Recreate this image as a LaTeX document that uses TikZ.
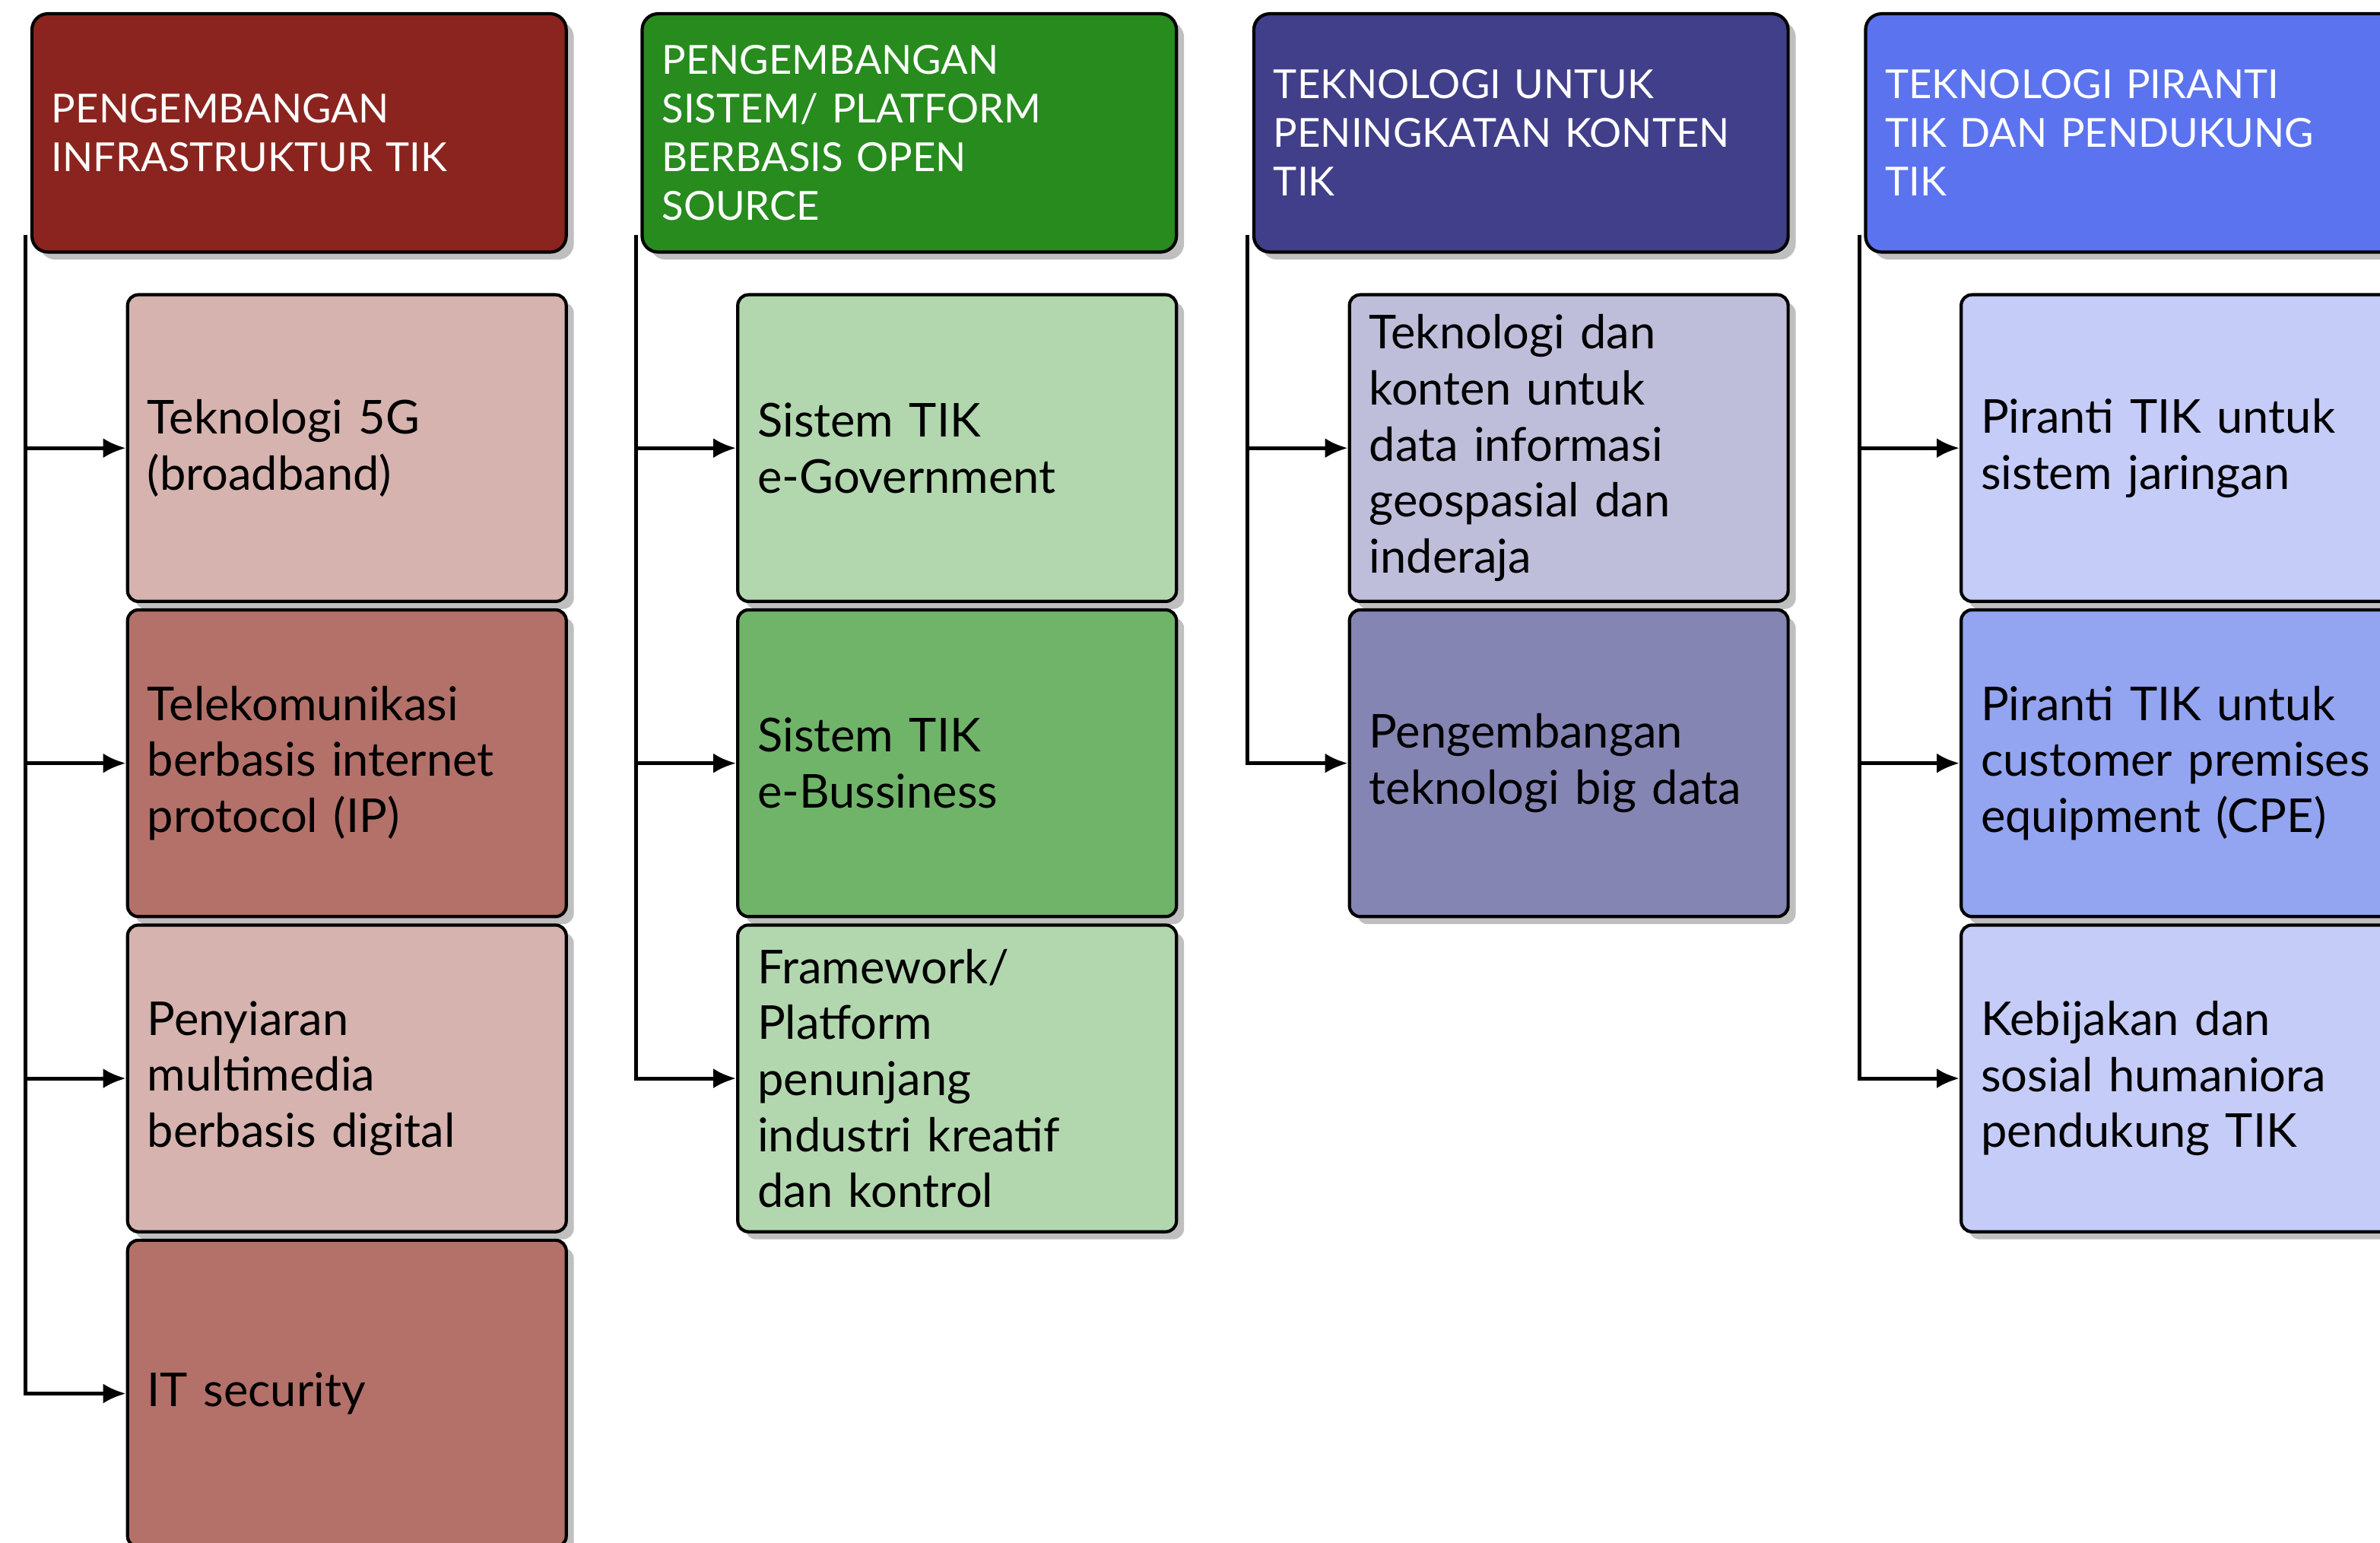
\documentclass[tikz,border=0pt]{standalone}
\usepackage{fontspec}
\setmainfont{Lato}
\usepackage{tikz}
\usetikzlibrary{positioning, shadows, arrows.meta}

\definecolor{infraHead}{RGB}{139,36,30}
\definecolor{infraLight}{RGB}{214,179,175}
\definecolor{infraDark}{RGB}{179,113,105}
\definecolor{osHead}{RGB}{39,139,30}
\definecolor{osLight}{RGB}{178,215,174}
\definecolor{osDark}{RGB}{112,180,106}
\definecolor{kontenHead}{RGB}{65,62,138}
\definecolor{kontenLight}{RGB}{190,190,218}
\definecolor{kontenDark}{RGB}{133,133,180}
\definecolor{pirantiHead}{RGB}{91,115,239}
\definecolor{pirantiLight}{RGB}{197,204,248}
\definecolor{pirantiDark}{RGB}{147,164,240}

\begin{document}
\begin{tikzpicture}[
    head/.style={draw, line width=1.2pt, rounded corners=6pt, anchor=north west,
        minimum width=7.04cm, minimum height=3.14cm, text width=6.52cm,
        inner xsep=0.26cm, align=left, text=white,
        font=\fontsize{15}{18.2}\selectfont,
        drop shadow={shadow xshift=0.1cm, shadow yshift=-0.1cm, fill=black!25, opacity=1}},
    item/.style={draw, line width=1.2pt, rounded corners=4pt,
        minimum width=5.78cm, minimum height=4.04cm, text width=5.26cm,
        inner xsep=0.26cm, align=left,
        font=\fontsize{17.5}{21}\selectfont,
        drop shadow={shadow xshift=0.1cm, shadow yshift=-0.1cm, fill=black!25, opacity=1}},
    arr/.style={line width=1.4pt, -{Latex[length=0.3cm, width=0.26cm]}}
]
    \clip (0,0) rectangle (31.36,-20.32);
    \useasboundingbox (0,0) rectangle (31.36,-20.32);

    % Kolom 1: infrastruktur
    \node[head, fill=infraHead] (h1) at (0.40,-0.16) {PENGEMBANGAN\\INFRASTRUKTUR TIK};
    \node[item, fill=infraLight, below right=0.52cm and 1.26cm of h1.south west] (c11) {Teknologi 5G\\(broadband)};
    \node[item, fill=infraDark, below=0.07cm of c11] (c12) {Telekomunikasi\\berbasis internet\\protocol (IP)};
    \node[item, fill=infraLight, below=0.07cm of c12] (c13) {Penyiaran\\multimedia\\berbasis digital};
    \node[item, fill=infraDark, below=0.07cm of c13] (c14) {IT security};

    \draw[arr] ([xshift=-0.06cm, yshift=0.25cm]h1.south west) |- (c11.west);
    \draw[arr] ([xshift=-0.06cm, yshift=0.25cm]h1.south west) |- (c12.west);
    \draw[arr] ([xshift=-0.06cm, yshift=0.25cm]h1.south west) |- (c13.west);
    \draw[arr] ([xshift=-0.06cm, yshift=0.25cm]h1.south west) |- (c14.west);

    % Kolom 2: open source
    \node[head, fill=osHead] (h2) at (8.44,-0.16) {PENGEMBANGAN\\SISTEM/ PLATFORM\\BERBASIS OPEN\\SOURCE};
    \node[item, fill=osLight, below right=0.52cm and 1.26cm of h2.south west] (c21) {Sistem TIK\\e-Government};
    \node[item, fill=osDark, below=0.07cm of c21] (c22) {Sistem TIK\\e-Bussiness};
    \node[item, fill=osLight, below=0.07cm of c22] (c23) {Framework/\\Platform\\penunjang\\industri kreatif\\dan kontrol};

    \draw[arr] ([xshift=-0.06cm, yshift=0.25cm]h2.south west) |- (c21.west);
    \draw[arr] ([xshift=-0.06cm, yshift=0.25cm]h2.south west) |- (c22.west);
    \draw[arr] ([xshift=-0.06cm, yshift=0.25cm]h2.south west) |- (c23.west);

    % Kolom 3: konten
    \node[head, fill=kontenHead] (h3) at (16.50,-0.16) {TEKNOLOGI UNTUK\\PENINGKATAN KONTEN\\TIK};
    \node[item, fill=kontenLight, below right=0.52cm and 1.26cm of h3.south west] (c31) {Teknologi dan\\konten untuk\\data informasi\\geospasial dan\\inderaja};
    \node[item, fill=kontenDark, below=0.07cm of c31] (c32) {Pengembangan\\teknologi big data};

    \draw[arr] ([xshift=-0.06cm, yshift=0.25cm]h3.south west) |- (c31.west);
    \draw[arr] ([xshift=-0.06cm, yshift=0.25cm]h3.south west) |- (c32.west);

    % Kolom 4: piranti
    \node[head, fill=pirantiHead] (h4) at (24.56,-0.16) {TEKNOLOGI PIRANTI\\TIK DAN PENDUKUNG\\TIK};
    \node[item, fill=pirantiLight, below right=0.52cm and 1.26cm of h4.south west] (c41) {Piranti TIK untuk\\sistem jaringan};
    \node[item, fill=pirantiDark, below=0.07cm of c41] (c42) {Piranti TIK untuk\\customer premises\\equipment (CPE)};
    \node[item, fill=pirantiLight, below=0.07cm of c42] (c43) {Kebijakan dan\\sosial humaniora\\pendukung TIK};

    \draw[arr] ([xshift=-0.06cm, yshift=0.25cm]h4.south west) |- (c41.west);
    \draw[arr] ([xshift=-0.06cm, yshift=0.25cm]h4.south west) |- (c42.west);
    \draw[arr] ([xshift=-0.06cm, yshift=0.25cm]h4.south west) |- (c43.west);

\end{tikzpicture}
\end{document}
